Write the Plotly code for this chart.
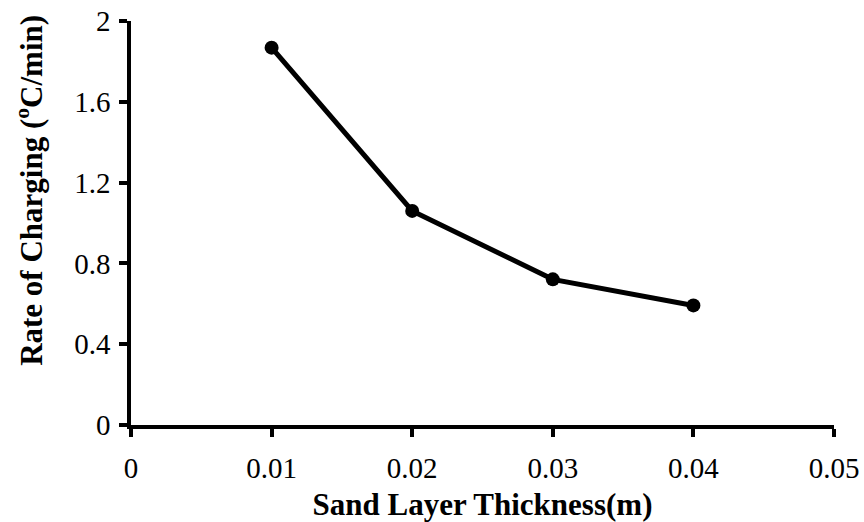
import plotly.graph_objects as go

thickness = [0.01, 0.02, 0.03, 0.04]
rate = [1.868, 1.060, 0.721, 0.592]
x_ticks = [0, 0.01, 0.02, 0.03, 0.04, 0.05]
x_tick_labels = ["0", "0.01", "0.02", "0.03", "0.04", "0.05"]
y_ticks = [0, 0.4, 0.8, 1.2, 1.6, 2]
y_tick_labels = ["0", "0.4", "0.8", "1.2", "1.6", "2"]

fig = go.Figure()
fig.add_trace(go.Scatter(
    x=thickness, y=rate, mode="lines+markers",
    line=dict(color="black", width=5),
    marker=dict(color="black", size=14),
    showlegend=False,
))

font = "Liberation Serif, Times New Roman, serif"
axis_common = dict(
    showline=True, linecolor="black", linewidth=3.5,
    ticks="outside", ticklen=8, tickwidth=3.5, tickcolor="black",
    showgrid=False, zeroline=False,
    ticklabeloverflow="allow",
    tickfont=dict(family=font, size=29, color="black"),
)
fig.update_xaxes(range=[0, 0.05], tickvals=x_ticks, ticktext=x_tick_labels,
                 ticklabelstandoff=6,
                 title=dict(text="<b>Sand Layer Thickness(m)</b>",
                            font=dict(family=font, size=31, color="black"), standoff=14),
                 **axis_common)
fig.update_yaxes(range=[0, 2], tickvals=y_ticks, ticktext=y_tick_labels,
                 ticklabelstandoff=3,
                 **axis_common)
fig.add_annotation(
    text="<b>Rate of Charging (<sup>o</sup>C/min)</b>",
    xref="paper", yref="paper", x=-0.1437, y=0.582,
    xanchor="center", yanchor="middle", textangle=-90, showarrow=False,
    font=dict(family=font, size=31, color="black"),
)
fig.update_layout(
    width=864, height=522,
    margin=dict(l=131, r=30, t=21, b=97, autoexpand=False),
    plot_bgcolor="white", paper_bgcolor="white",
)
fig.write_html(
    "out.html",
    config={"displayModeBar": False},
    post_script="document.body.style.margin='0';document.body.style.overflow='hidden';",
)
